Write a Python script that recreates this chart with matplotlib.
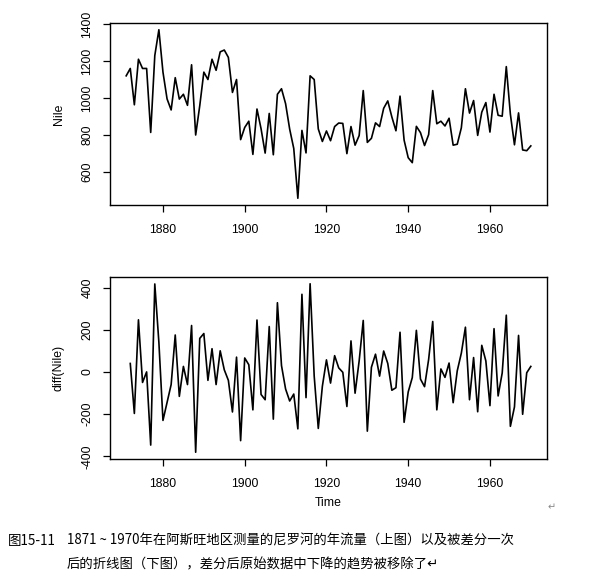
import numpy as np
import matplotlib
matplotlib.use("Agg")
import matplotlib.pyplot as plt

# Nile annual flow, 1871-1970
years = np.arange(1871, 1971)
nile = [1120, 1160, 963, 1210, 1160, 1160, 813, 1230, 1370, 1140,
        995, 935, 1110, 994, 1020, 960, 1180, 799, 958, 1140,
        1100, 1210, 1150, 1250, 1260, 1220, 1030, 1100, 774, 840,
        874, 694, 940, 833, 701, 916, 692, 1020, 1050, 969,
        831, 726, 456, 824, 702, 1120, 1100, 832, 764, 821,
        768, 845, 864, 862, 698, 845, 744, 796, 1040, 759,
        781, 865, 845, 944, 984, 897, 822, 1010, 771, 676,
        649, 846, 812, 742, 801, 1040, 860, 874, 848, 890,
        744, 749, 838, 1050, 918, 986, 797, 923, 975, 815,
        1020, 906, 901, 1170, 912, 746, 919, 718, 714, 740]
nile = np.array(nile)
diff_nile = np.diff(nile)
diff_years = years[1:]

x_ticks = [1880, 1900, 1920, 1940, 1960]
top_yticks = [600, 800, 1000, 1200, 1400]
bot_yticks = [-400, -200, 0, 200, 400]

caption_no = "图15-11"
caption_1 = "1871 ~ 1970年在阿斯旺地区测量的尼罗河的年流量（上图）以及被差分一次"
caption_2 = "后的折线图（下图），差分后原始数据中下降的趋势被移除了"

plt.rcParams['font.family'] = ['Liberation Sans', 'DejaVu Sans']
W, H = 606, 586
fig = plt.figure(figsize=(W / 100, H / 100), dpi=100)


def r_axes(rect, x, y, yticks, ylabel, xlabel=None):
    ax = fig.add_axes(rect)
    ax.plot(x, y, color='black', lw=1.2)
    lo, hi = y.min(), y.max()
    pad = (hi - lo) * 0.04
    ax.set_ylim(lo - pad, hi + pad)
    ax.set_xlim(1871 - 99 * 0.04, 1970 + 99 * 0.04)
    ax.set_xticks(x_ticks)
    ax.set_yticks(yticks)
    ax.set_yticklabels([str(t) for t in yticks], rotation=90, va='center')
    ax.tick_params(direction='out', length=5, width=0.9, labelsize=8.8, pad=7)
    ax.tick_params(axis='x', pad=9)
    for s in ax.spines.values():
        s.set_linewidth(1.0)
    ax.set_ylabel(ylabel, fontsize=8.8, labelpad=12)
    if xlabel:
        ax.set_xlabel(xlabel, fontsize=8.8, labelpad=5)
    return ax


def px(left, top, right, bottom):
    return [left / W, 1 - bottom / H, (right - left) / W, (bottom - top) / H]


r_axes(px(110, 23, 547, 205), years, nile, top_yticks, 'Nile')
r_axes(px(110, 277, 547, 459), diff_years, diff_nile, bot_yticks, 'diff(Nile)', 'Time')

cjk = ['Noto Sans CJK SC', 'DejaVu Sans']
fig.text(548 / W, 1 - 507 / H, '↵', family=cjk, fontsize=7, color='#888888', va='center')
fig.text(8 / W, 1 - 541 / H, caption_no, family=cjk, fontsize=9.7, va='center')
fig.text(67 / W, 1 - 541 / H, caption_1, family=cjk, fontsize=9.6, va='center')
fig.text(67 / W, 1 - 564 / H, caption_2 + '↵', family=cjk, fontsize=9.6, va='center')

fig.savefig('out.png', dpi=100)
